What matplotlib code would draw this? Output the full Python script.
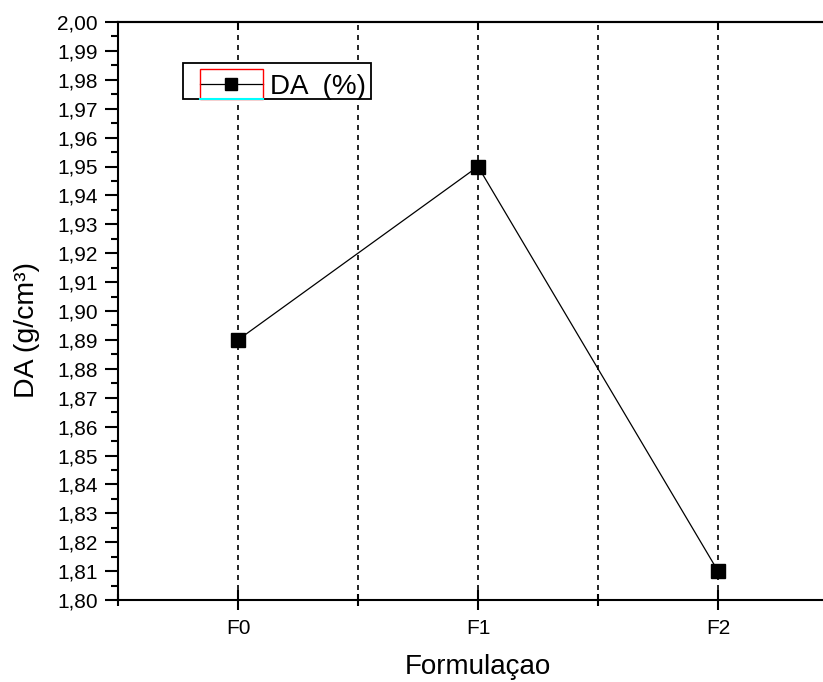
import numpy as np
import matplotlib
matplotlib.use('Agg')
import matplotlib.pyplot as plt
from matplotlib.patches import Rectangle
from matplotlib.lines import Line2D
from matplotlib.path import Path
from matplotlib.legend_handler import HandlerLine2D

plt.rcParams['font.family'] = ['Liberation Sans', 'DejaVu Sans']

formulations = ['F0', 'F1', 'F2']
da_values = [1.89, 1.95, 1.81]
y_ticks = np.round(np.arange(1.80, 2.0001, 0.01), 2)

W, H = 823, 682
fig = plt.figure(figsize=(W / 100, H / 100), dpi=100)
# right part of the frame (x = 2.5) falls just outside the picture, like the original
ax = fig.add_axes([118 / W, (H - 600) / H, (838 - 118) / W, (600 - 22) / H])

x = np.arange(len(formulations))
line, = ax.plot(x, da_values, color='black', linewidth=0.9, marker='s', markersize=9.5,
                label='DA  (%)', zorder=3)

ax.set_xlim(-0.5, 2.5)
ax.set_ylim(1.80, 2.00)
ax.set_xticks(x)
ax.set_xticklabels(formulations)
ax.set_xticks([-0.5, 0.5, 1.5, 2.5], minor=True)
ax.set_yticks(y_ticks)
ax.set_yticklabels([('%.2f' % v).replace('.', ',') for v in y_ticks])
ax.set_yticks(np.arange(1.805, 2.0, 0.01), minor=True)

ax.grid(True, axis='x', which='both', color='black', linestyle=(0, (3, 3)), linewidth=1.2)
ax.spines['right'].set_visible(False)
for s in ['left', 'bottom', 'top']:
    ax.spines[s].set_linewidth(1.5)

ax.tick_params(axis='y', which='major', direction='out', length=9.5, width=1.5,
               labelsize=15, pad=5)
ax.tick_params(axis='y', which='minor', direction='out', length=5, width=1.5)
ax.tick_params(axis='x', which='major', direction='inout', length=15, width=1.5,
               labelsize=15, pad=6)
ax.tick_params(axis='x', which='minor', direction='inout', length=8, width=1.5)

top = ax.secondary_xaxis('top')
top.set_xticks(x)
top.tick_params(direction='in', length=6, width=1.5, labeltop=False)
top.spines['top'].set_linewidth(1.5)

ax.set_xlabel('Formulaçao', fontsize=20, labelpad=12)
ax.set_ylabel('DA (g/cm³)', fontsize=20.5)
ax.yaxis.set_label_coords(-0.108, 0.467)

leg = ax.legend(loc='upper left', bbox_to_anchor=(183 / W, (H - 69) / H),
                bbox_transform=fig.transFigure, fontsize=20, frameon=True,
                fancybox=False, borderpad=0.18, handlelength=2.7,
                handletextpad=0.25, borderaxespad=0, markerscale=0.9,
                handler_map={line: HandlerLine2D(xpad=0.43)})


def shifted_box(x0, y0, width, height, mutation_size):
    # square frame raised a few pixels, so the entry sits low in it
    b = y0 + 6
    t = y0 + height + 6
    verts = [(x0, b), (x0 + width, b), (x0 + width, t), (x0, t), (x0, b)]
    return Path(verts, closed=True)


frame = leg.get_frame()
frame.set_boxstyle(shifted_box)
frame.set_edgecolor('black')
frame.set_linewidth(1.3)
frame.set_alpha(1)

# Origin selection box artifact around the legend symbol
fig.add_artist(Rectangle((200 / W, (H - 99) / H), 63 / W, 30 / H, transform=fig.transFigure,
                         fill=False, edgecolor='red', linewidth=1.0, zorder=10))
fig.add_artist(Line2D([200 / W, 263 / W], [(H - 99) / H, (H - 99) / H],
                      transform=fig.transFigure, color='cyan', linewidth=1.5, zorder=11))

fig.savefig('out.png', dpi=100)
